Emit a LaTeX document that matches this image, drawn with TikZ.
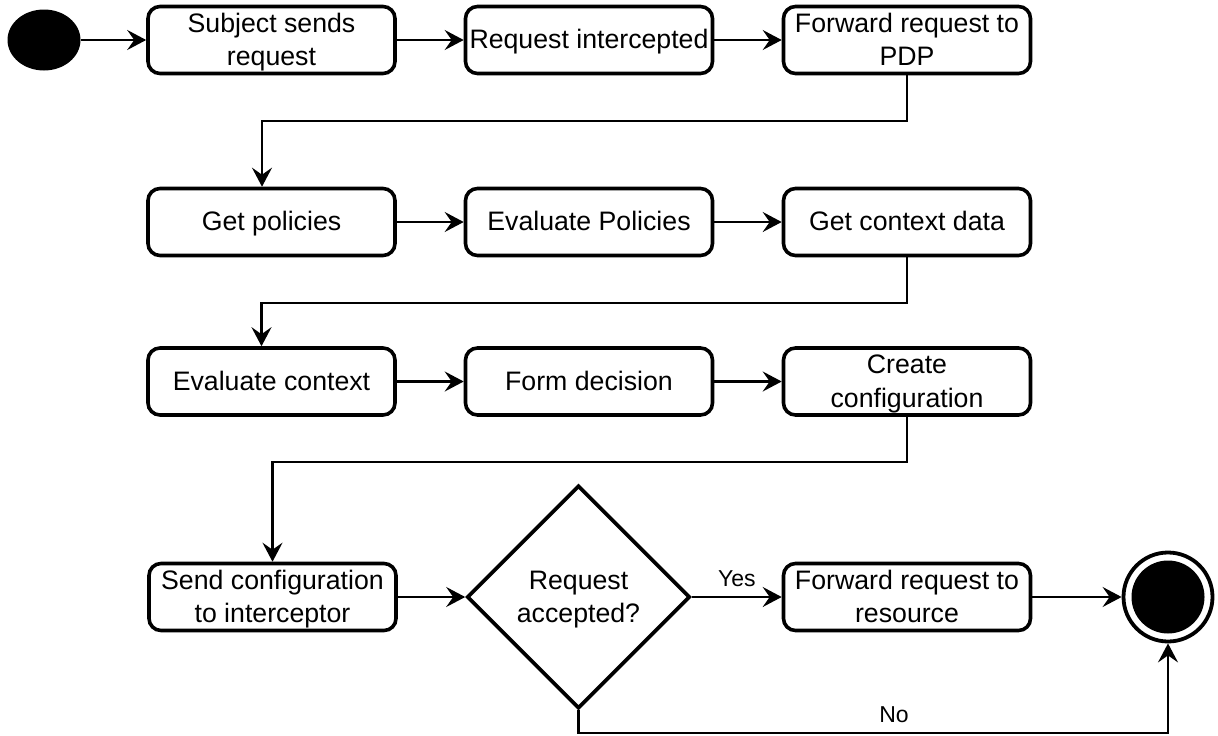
\documentclass[tikz,border=0pt]{standalone}
\usepackage{fontspec}
\setmainfont{Liberation Sans}
\usetikzlibrary{shapes.geometric,arrows.meta}
% a strut that keeps every line centred on its capitals
\newcommand\capline{\rule[-6pt]{0pt}{29.5pt}}
\begin{document}
\begin{tikzpicture}[x=1pt,y=-1pt,
  act/.style={draw, line width=3.6pt, rounded corners=12pt,
    minimum width=247pt, minimum height=67pt, inner sep=0pt,
    align=center, font=\fontsize{26.7}{33.5}\selectfont},
  decide/.style={draw, diamond, aspect=1, line width=3.6pt,
    minimum width=223pt, minimum height=223pt, inner sep=0pt,
    align=center, font=\fontsize{26.7}{33.5}\selectfont},
  flow/.style={line width=2.3pt,
    -{Stealth[length=19pt,width=20pt,inset=7pt]}},
  guard/.style={font=\fontsize{23}{27}\selectfont, inner sep=0pt}
]
\useasboundingbox (0,0) rectangle (1218,736);

% initial state
\node[ellipse, fill=black, minimum width=73pt, minimum height=61pt,
  inner sep=0pt] (start) at (44,40) {};

% first row
\node[act] (send)  at (271.5,40) {\capline Subject sends\\\capline request};
\node[act] (intc)  at (589,40)   {\capline Request intercepted};
\node[act] (fwdp)  at (907,40)   {\capline Forward request to\\\capline PDP};

% second row
\node[act] (getp)  at (271.5,222) {\capline Get policies};
\node[act] (evalp) at (589,222)   {\capline Evaluate Policies};
\node[act] (getc)  at (907,222)   {\capline Get context data};

% third row
\node[act] (evalc) at (271.5,381.5) {\capline Evaluate context};
\node[act] (form)  at (589,381.5)   {\capline Form decision};
\node[act] (conf)  at (907,381.5)   {\capline Create\\\capline configuration};

% fourth row
\node[act] (sendc) at (272.5,597) {\capline Send configuration\\\capline to interceptor};
\node[decide] (acc) at (578.5,597) {\capline Request\\\capline accepted?};
\node[act] (fwdr)  at (907,597)   {\capline Forward request to\\\capline resource};

% final state
\node[circle, draw, line width=3.8pt, minimum size=89pt, inner sep=0pt]
  (end) at (1168,597) {};
\node[circle, fill=black, minimum size=73pt, inner sep=0pt]
  (endcore) at (end.center) {};

% connectors
\draw[flow] (start) -- (send);
\draw[flow] (send) -- (intc);
\draw[flow] (intc) -- (fwdp);
\draw[flow] (fwdp.south) -- ++(0,46) -| ([xshift=-9.5pt]getp.north);

\draw[flow] (getp) -- (evalp);
\draw[flow] (evalp) -- (getc);
\draw[flow] (getc.south) -- ++(0,46) -| ([xshift=-10pt]evalc.north);

\draw[flow] (evalc) -- (form);
\draw[flow] (form) -- (conf);
\draw[flow] (conf.south) -- ++(0,45) -| (sendc.north);

\draw[flow] (sendc) -- (acc);
\draw[flow] (acc) -- node[guard, above=9pt, pos=0.5] (yes) {Yes} (fwdr);
\draw[flow] (fwdr) -- (end);
\draw[flow] (acc.south) -- ++(0,23) -| (end.south);
\node[guard] (no) at (894,715) {No};
\end{tikzpicture}
\end{document}
